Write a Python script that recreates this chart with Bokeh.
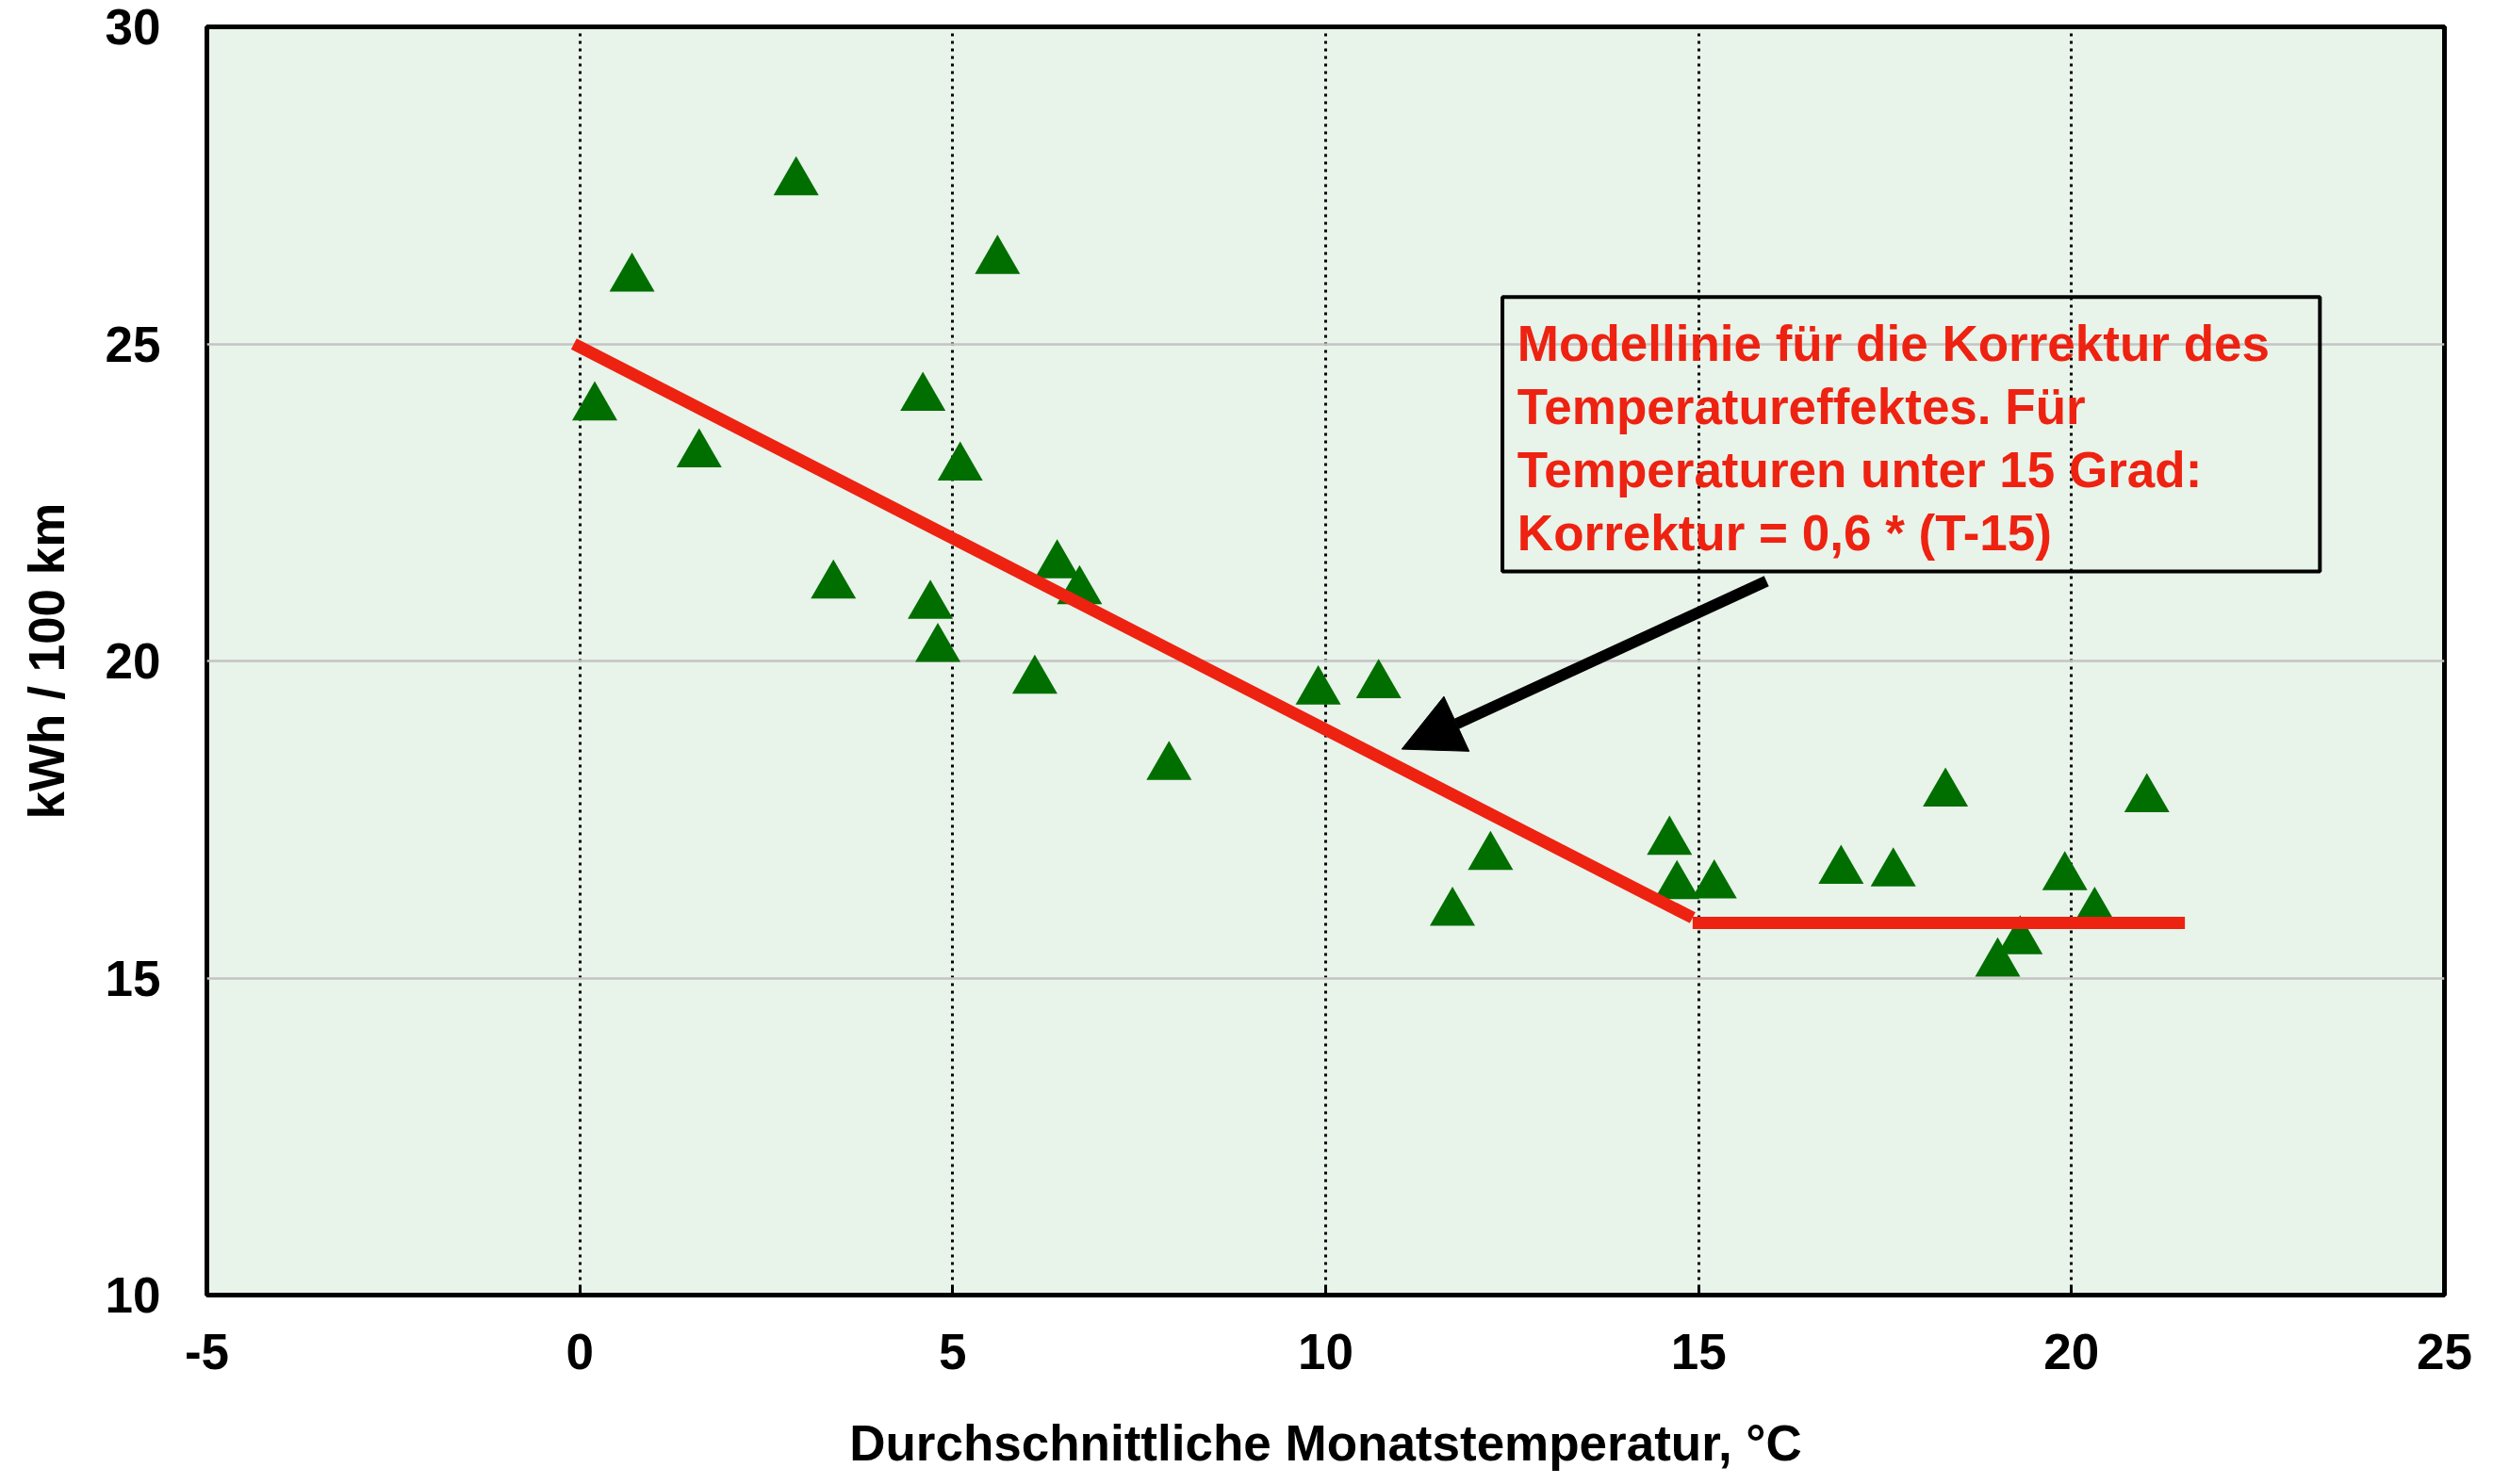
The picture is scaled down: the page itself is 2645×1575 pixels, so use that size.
from bokeh.plotting import figure
from bokeh.models import Range1d, FixedTicker, Arrow, NormalHead, BoxAnnotation, Label
from bokeh.embed import file_html
from bokeh.resources import INLINE

# ---- data ----
temp = [0.20, 0.70, 1.60, 2.90, 3.40, 4.60, 4.70, 4.80, 5.10, 5.60,
        6.10, 6.40, 6.70, 7.90, 9.90, 10.71, 11.70, 12.21, 14.61, 14.71,
        15.21, 16.91, 17.61, 18.31, 19.01, 19.31, 19.91, 20.31, 21.01]
consumption = [24.00, 26.03, 23.26, 27.55, 21.19, 24.15, 20.87, 20.19, 23.05, 26.31,
               19.69, 21.51, 21.10, 18.33, 19.52, 19.62, 16.03, 16.91, 17.15, 16.45,
               16.46, 16.69, 16.65, 17.91, 15.23, 15.58, 16.59, 16.03, 17.82]

model_x = [-0.08, 14.92]
model_y = [25.0, 15.95]
flat_x = [14.92, 21.52]
flat_y = [15.87, 15.87]

x_ticks = [-5, 0, 5, 10, 15, 20, 25]
x_tick_labels = ["-5", "0", "5", "10", "15", "20", "25"]
y_ticks = [10, 15, 20, 25, 30]
y_tick_labels = ["10", "15", "20", "25", "30"]

x_title = "Durchschnittliche Monatstemperatur, °C"
y_title = "kWh / 100 km"
note_lines = ["Modellinie für die Korrektur des",
              "Temperatureffektes. Für",
              "Temperaturen unter 15 Grad:",
              "Korrektur = 0,6 * (T-15)"]

# ---- annotation geometry (data units / px) ----
BOX = dict(left=12.37, right=23.33, top=25.74, bottom=21.41)
NOTE_X, NOTE_Y, NOTE_STEP, NOTE_SHIFT = 12.57, 24.75, 67, 17
ARROW = dict(x_start=15.91, y_start=21.26, x_end=11.02, y_end=18.61)

FONT = "Liberation Sans"
RED = "#EE2211"
GREEN = "#006F00"
BG = "#E8F3EA"

p = figure(frame_width=2374, frame_height=1346,
           x_range=Range1d(-5, 25), y_range=Range1d(10, 30),
           output_backend="svg", toolbar_location=None,
           min_border_left=219, min_border_top=28, min_border_right=34, min_border_bottom=150)

p.background_fill_color = BG
p.border_fill_color = "white"
p.outline_line_color = "black"
p.outline_line_width = 5

# axes
p.xaxis.ticker = FixedTicker(ticks=x_ticks)
p.yaxis.ticker = FixedTicker(ticks=y_ticks)
p.xaxis.major_label_overrides = dict(zip(x_ticks, x_tick_labels))
p.yaxis.major_label_overrides = dict(zip(y_ticks, y_tick_labels))
for ax in (p.xaxis, p.yaxis):
    ax.axis_line_color = None
    ax.minor_tick_line_color = None
    ax.major_label_text_font = FONT
    ax.major_label_text_font_style = "bold"
    ax.major_label_text_font_size = "53px"
    ax.major_label_text_color = "black"
    ax.axis_label_text_font = FONT
    ax.axis_label_text_font_style = "bold"
    ax.axis_label_text_font_size = "53px"
    ax.axis_label_text_color = "black"
p.xaxis.major_tick_in = 9
p.xaxis.major_tick_out = 0
p.xaxis.major_tick_line_width = 3
p.xaxis.major_tick_line_color = "black"
p.yaxis.major_tick_line_color = None
p.yaxis.major_tick_in = 0
p.yaxis.major_tick_out = 0
p.xaxis.major_label_standoff = 41
p.yaxis.major_label_standoff = 49
p.xaxis.axis_label = x_title
p.yaxis.axis_label = y_title
p.xaxis.axis_label_standoff = 46
p.yaxis.axis_label_standoff = 30

# grids
p.xgrid.grid_line_color = "black"
p.xgrid.grid_line_width = 3
p.xgrid.grid_line_dash = "3 5"
p.ygrid.grid_line_color = "#C4C4C4"
p.ygrid.grid_line_width = 2.5

# data
p.scatter(temp, consumption, marker="triangle", size=48,
          fill_color=GREEN, line_color=None)

# model lines
p.line(model_x, model_y, line_color=RED, line_width=13, line_cap="butt")
p.line(flat_x, flat_y, line_color=RED, line_width=13, line_cap="butt")

# annotation box
p.add_layout(BoxAnnotation(**BOX, fill_alpha=0, line_color="black", line_width=4,
                           line_alpha=1))
for i, t in enumerate(note_lines):
    p.add_layout(Label(x=NOTE_X, y=NOTE_Y, y_offset=NOTE_SHIFT - NOTE_STEP * i, text=t,
                       text_font=FONT, text_font_style="bold", text_font_size="53px",
                       text_color=RED, text_baseline="alphabetic", text_align="left"))

# arrow
p.add_layout(Arrow(end=NormalHead(size=64, fill_color="black", line_color="black", line_width=1),
                   line_color="black", line_width=12, **ARROW))

open("out.html", "w").write(file_html(p, INLINE))
